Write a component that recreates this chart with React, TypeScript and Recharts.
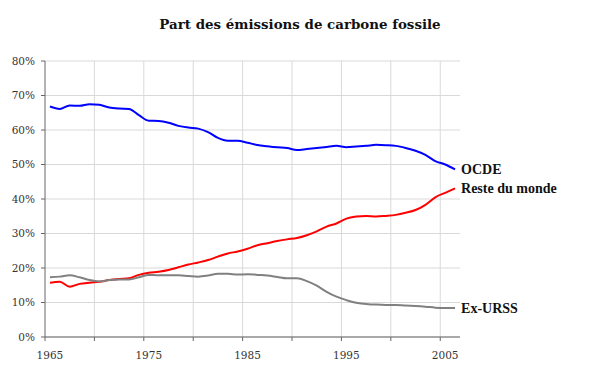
import React from "react";
import { LineChart, Line, XAxis, YAxis, CartesianGrid, LabelList, ReferenceLine } from "recharts";

const years = [
  1965, 1966, 1967, 1968, 1969, 1970, 1971, 1972, 1973, 1974,
  1975, 1976, 1977, 1978, 1979, 1980, 1981, 1982, 1983, 1984,
  1985, 1986, 1987, 1988, 1989, 1990, 1991, 1992, 1993, 1994,
  1995, 1996, 1997, 1998, 1999, 2000, 2001, 2002, 2003, 2004,
  2005, 2006,
];

const ocde = [
  66.8, 66.1, 67.1, 67.0, 67.5, 67.3, 66.5, 66.2, 66.1, 64.3,
  62.7, 62.6, 62.1, 61.2, 60.7, 60.4, 59.4, 57.7, 56.9, 56.9,
  56.3, 55.65, 55.3, 55.0, 54.8, 54.2, 54.5, 54.8, 55.1, 55.4,
  55.0, 55.2, 55.4, 55.7, 55.6, 55.4, 54.8, 54.0, 52.8, 51.0,
  50.0, 48.6,
];

const resteDuMonde = [
  15.75, 16.0, 14.6, 15.4, 15.75, 16.0, 16.5, 16.8, 17.0, 18.0,
  18.6, 18.9, 19.4, 20.2, 21.0, 21.6, 22.3, 23.3, 24.2, 24.8,
  25.6, 26.6, 27.2, 27.8, 28.3, 28.7, 29.5, 30.6, 32.0, 32.9,
  34.3, 34.9, 35.1, 34.9, 35.1, 35.4, 36.0, 36.8, 38.3, 40.5,
  41.8, 43.1,
];

const exUrss = [
  17.3, 17.5, 17.9, 17.3, 16.5, 16.1, 16.5, 16.7, 16.7, 17.3,
  18.0, 17.9, 17.9, 17.9, 17.7, 17.5, 17.8, 18.3, 18.3, 18.1,
  18.2, 18.0, 17.8, 17.4, 17.0, 17.0, 16.2, 14.9, 13.1, 11.7,
  10.7, 9.9, 9.6, 9.4, 9.3, 9.3, 9.1, 9.0, 8.8, 8.5,
  8.4, 8.4,
];

const seriesNames = ["OCDE", "Reste du monde", "Ex-URSS"];
const gridTicks = [1965, 1970, 1975, 1980, 1985, 1990, 1995, 2000, 2005];
const labelYears = [1965, 1975, 1985, 1995, 2005];
const yTicks = [0, 10, 20, 30, 40, 50, 60, 70, 80];

// each year is a category band; points sit in the middle of their band
const data = years.map((yr, i) => ({
  x: yr + 0.5,
  ocde: ocde[i],
  reste: resteDuMonde[i],
  urss: exUrss[i],
}));

const lastIndex = data.length - 1;

const endLabel = (name: string) => (props: any) => {
  const { x, y, index } = props;
  if (index !== lastIndex) return null;
  return (
    <text
      x={Number(x) + 6}
      y={Number(y)}
      dominantBaseline="central"
      fontFamily="'Liberation Serif', serif"
      fontWeight="bold"
      fontSize={14}
      fill="#111"
    >
      {name}
    </text>
  );
};

const tickStyle = { fontFamily: "'DejaVu Serif', serif", fontSize: 10.5, fill: "#333" };

export default function App() {
  return (
    <div style={{ position: "relative", width: 592, height: 366, background: "#fff" }}>
      <div
        style={{
          position: "absolute",
          top: 8,
          left: 0,
          width: 584,
          textAlign: "center",
          fontFamily: "'DejaVu Serif', serif",
          fontWeight: "bold",
          fontSize: 13.4,
          color: "#111",
        }}
      >
        Part des émissions de carbone fossile
      </div>
      <LineChart
        width={592}
        height={366}
        data={data}
        margin={{ top: 53, right: 140, bottom: 1, left: 0 }}
      >
        <CartesianGrid stroke="#d9d9d9" strokeWidth={1} vertical={false} horizontal />
        {gridTicks.slice(1).map((t) => (
          <ReferenceLine key={t} x={t} stroke="#d9d9d9" strokeWidth={1} ifOverflow="extendDomain" />
        ))}
        <XAxis
          dataKey="x"
          type="number"
          domain={[1965, 2007]}
          ticks={gridTicks}
          tickFormatter={() => ""}
          tickSize={4}
          height={6}
          stroke="#666"
          allowDataOverflow
        />
        <XAxis
          xAxisId="labels"
          dataKey="x"
          type="number"
          domain={[1965, 2007]}
          ticks={labelYears.map((y) => y + 0.5)}
          tickFormatter={(v: number) => String(Math.floor(v))}
          axisLine={false}
          tickLine={false}
          tickSize={4}
          tickMargin={5}
          height={30}
          tick={tickStyle}
          allowDataOverflow
        />
        <YAxis
          type="number"
          domain={[0, 80]}
          ticks={yTicks}
          tickFormatter={(v: number) => `${v}%`}
          width={37}
          tickSize={4}
          tickMargin={6}
          stroke="#666"
          tick={tickStyle}
        />
        <Line
          dataKey="ocde"
          name={seriesNames[0]}
          stroke="#0000ff"
          strokeWidth={2}
          dot={false}
          type="monotone"
          isAnimationActive={false}
        >
          <LabelList dataKey="ocde" content={endLabel(seriesNames[0])} />
        </Line>
        <Line
          dataKey="reste"
          name={seriesNames[1]}
          stroke="#ff0000"
          strokeWidth={2}
          dot={false}
          type="monotone"
          isAnimationActive={false}
        >
          <LabelList dataKey="reste" content={endLabel(seriesNames[1])} />
        </Line>
        <Line
          dataKey="urss"
          name={seriesNames[2]}
          stroke="#808080"
          strokeWidth={2}
          dot={false}
          type="monotone"
          isAnimationActive={false}
        >
          <LabelList dataKey="urss" content={endLabel(seriesNames[2])} />
        </Line>
      </LineChart>
    </div>
  );
}
